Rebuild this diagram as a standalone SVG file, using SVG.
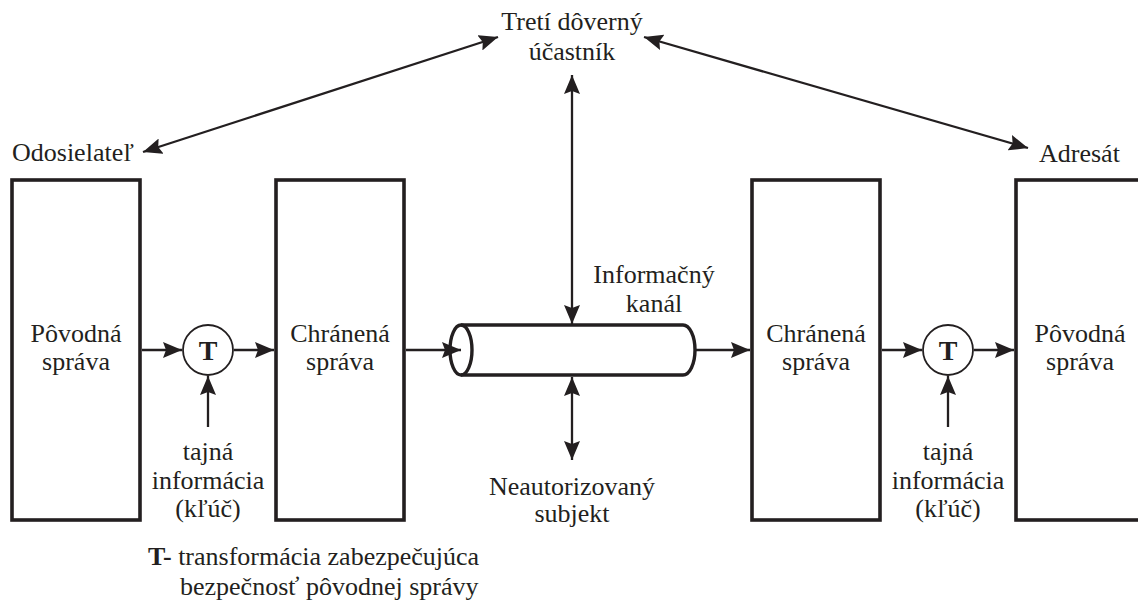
<svg xmlns="http://www.w3.org/2000/svg" width="1138" height="604" viewBox="0 0 1138 604">
<defs>
<marker id="ah" markerUnits="userSpaceOnUse" markerWidth="19" markerHeight="16" refX="19" refY="8" orient="auto-start-reverse" viewBox="0 0 19 16">
<path d="M0,0 L19,8 L0,16 L3,8 z" fill="#231f20"/>
</marker>
<style>
.box{fill:none;stroke:#231f20;stroke-width:3.6}
.circ{fill:#fff;stroke:#231f20;stroke-width:1.8}
.cyl{fill:none;stroke:#231f20;stroke-width:3.4}
.ln{fill:none;stroke:#231f20;stroke-width:2.3}
.one{marker-end:url(#ah)}
.two{marker-start:url(#ah);marker-end:url(#ah)}
text{font-family:"Liberation Serif","Times New Roman",serif;font-size:26px;fill:#231f20}
.c{text-anchor:middle}
.b{font-weight:bold}
</style>
</defs>
<rect width="1138" height="604" fill="#fff"/>
<g id="connectors">
<line class="ln one" x1="142" y1="350" x2="182" y2="350"/>
<line class="ln one" x1="234" y1="350" x2="274" y2="350"/>
<line class="ln one" x1="208" y1="427" x2="208" y2="376"/>
<line class="ln one" x1="406" y1="350" x2="461" y2="350"/>
<line class="ln one" x1="695" y1="350" x2="750" y2="350"/>
<line class="ln one" x1="882" y1="350" x2="922" y2="350"/>
<line class="ln one" x1="974" y1="350" x2="1014" y2="350"/>
<line class="ln one" x1="948" y1="427" x2="948" y2="376"/>
<line class="ln two" x1="572" y1="75" x2="572" y2="324"/>
<line class="ln two" x1="572" y1="377" x2="572" y2="460"/>
<line class="ln two" x1="143" y1="152" x2="498" y2="37"/>
<line class="ln two" x1="644" y1="37" x2="1028" y2="148"/>
</g>
<g id="sender-label"><text x="12" y="161">Odosielateľ</text></g>
<g id="receiver-label"><text x="1039" y="162">Adresát</text></g>
<g id="trusted-party"><text class="c" x="572" y="30">Tretí dôverný</text><text class="c" x="572" y="60">účastník</text></g>
<g id="box-original-left"><rect class="box" x="12" y="180" width="128" height="340"/><text class="c" x="76" y="342">Pôvodná</text><text class="c" x="76" y="370">správa</text></g>
<g id="t-left"><circle class="circ" cx="208" cy="350" r="25"/><text class="c b" x="208" y="360" style="font-size:28px">T</text></g>
<g id="box-protected-left"><rect class="box" x="276" y="180" width="128" height="340"/><text class="c" x="340" y="342">Chránená</text><text class="c" x="340" y="370">správa</text></g>
<g id="channel"><path class="cyl" d="M461,325 L683,325 A12,25 0 0 1 683,375 L461,375"/><ellipse class="cyl" cx="461" cy="350" rx="11" ry="25"/><text class="c" x="654" y="283">Informačný</text><text class="c" x="654" y="312">kanál</text></g>
<g id="box-protected-right"><rect class="box" x="752" y="180" width="128" height="340"/><text class="c" x="816" y="342">Chránená</text><text class="c" x="816" y="370">správa</text></g>
<g id="t-right"><circle class="circ" cx="948" cy="350" r="25"/><text class="c b" x="948" y="360" style="font-size:28px">T</text></g>
<g id="box-original-right"><rect class="box" x="1016" y="180" width="140" height="340"/><text class="c" x="1080" y="342">Pôvodná</text><text class="c" x="1080" y="370">správa</text></g>
<g id="key-left"><text class="c" x="208" y="460">tajná</text><text class="c" x="208" y="489">informácia</text><text class="c" x="208" y="517">(kľúč)</text></g>
<g id="key-right"><text class="c" x="948" y="460">tajná</text><text class="c" x="948" y="489">informácia</text><text class="c" x="948" y="517">(kľúč)</text></g>
<g id="attacker"><text class="c" x="572" y="495">Neautorizovaný</text><text class="c" x="572" y="522">subjekt</text></g>
<g id="legend"><text x="148" y="565"><tspan class="b">T-</tspan> transformácia zabezpečujúca</text><text x="180" y="595">bezpečnosť pôvodnej správy</text></g>
</svg>
